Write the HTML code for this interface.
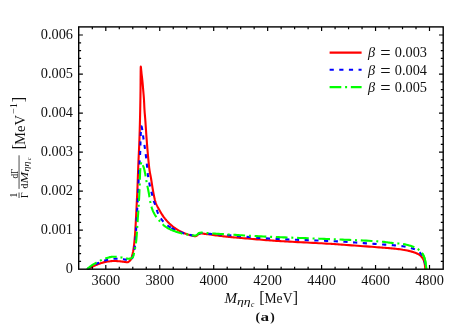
<!DOCTYPE html>
<html><head><meta charset="utf-8"><title>plot</title>
<style>
html,body{margin:0;padding:0;background:#fff;}
svg{display:block;will-change:transform;font-family:"Liberation Serif",serif;}
</style></head><body>
<svg width="469" height="328" viewBox="0 0 469 328">
<rect width="469" height="328" fill="#fff"/>

<defs><clipPath id="c"><rect x="78.7" y="26.9" width="364.5" height="242.9"/></clipPath></defs>
<g fill="none" stroke-linejoin="round" clip-path="url(#c)">
<path d="M87.60,269.20 L88.13,268.90 L88.68,268.59 L89.27,268.28 L89.88,267.96 L90.00,267.90 L90.51,267.64 L91.17,267.31 L91.86,266.97 L92.58,266.63 L93.34,266.27 L93.50,266.20 L94.14,265.91 L94.99,265.52 L95.89,265.12 L96.82,264.73 L97.76,264.34 L98.70,263.98 L99.20,263.80 L99.64,263.64 L100.58,263.31 L101.52,262.98 L102.48,262.66 L103.46,262.37 L104.47,262.12 L105.50,261.92 L105.60,261.90 L106.59,261.74 L107.73,261.58 L108.92,261.42 L110.12,261.27 L111.33,261.15 L112.53,261.06 L113.71,261.01 L114.50,261.00 L114.85,261.00 L115.99,261.04 L117.12,261.10 L118.24,261.19 L119.35,261.30 L120.42,261.41 L121.46,261.52 L122.20,261.60 L122.44,261.62 L123.41,261.74 L124.35,261.88 L125.25,262.02 L126.11,262.13 L126.92,262.19 L127.30,262.20 L127.67,262.17 L128.39,261.91 L129.09,261.47 L129.72,260.91 L130.26,260.31 L130.50,260.00 L130.70,259.69 L131.09,258.93 L131.44,258.03 L131.76,257.04 L132.04,256.02 L132.31,254.99 L132.50,254.20 L132.55,254.01 L132.76,253.08 L132.96,252.14 L133.15,251.20 L133.32,250.23 L133.49,249.21 L133.65,248.13 L133.70,247.80 L133.82,246.95 L133.98,245.66 L134.14,244.27 L134.29,242.82 L134.45,241.33 L134.59,239.83 L134.72,238.35 L134.85,236.90 L134.96,235.53 L135.00,235.00 L135.06,234.23 L135.15,232.96 L135.23,231.72 L135.31,230.51 L135.38,229.31 L135.45,228.14 L135.52,226.97 L135.59,225.82 L135.60,225.60 L135.65,224.72 L135.71,223.69 L135.76,222.71 L135.81,221.71 L135.86,220.68 L135.92,219.55 L135.99,218.28 L136.00,218.00 L136.06,216.83 L136.14,215.19 L136.24,213.37 L136.34,211.40 L136.45,209.30 L136.56,207.11 L136.67,204.84 L136.78,202.52 L136.90,200.17 L137.01,197.83 L137.12,195.50 L137.23,193.23 L137.32,191.04 L137.40,189.30 L137.42,188.94 L137.50,186.88 L137.58,184.82 L137.66,182.77 L137.74,180.73 L137.81,178.69 L137.89,176.66 L137.96,174.63 L138.03,172.62 L138.11,170.62 L138.18,168.62 L138.26,166.64 L138.33,164.68 L138.40,163.00 L138.41,162.72 L138.49,160.79 L138.58,158.88 L138.66,156.98 L138.75,155.11 L138.84,153.24 L138.92,151.37 L139.01,149.51 L139.09,147.65 L139.18,145.78 L139.25,143.90 L139.33,142.00 L139.40,140.09 L139.40,140.00 L139.46,138.15 L139.53,136.20 L139.59,134.24 L139.65,132.26 L139.71,130.28 L139.77,128.29 L139.82,126.31 L139.88,124.32 L139.93,122.34 L139.98,120.36 L140.02,118.40 L140.07,116.45 L140.10,115.00 L140.11,114.52 L140.15,112.61 L140.19,110.71 L140.22,108.83 L140.26,106.95 L140.29,105.09 L140.33,103.22 L140.36,101.35 L140.39,99.48 L140.42,97.60 L140.45,95.71 L140.47,93.80 L140.50,92.00 L140.50,91.88 L140.53,89.77 L140.55,87.42 L140.57,84.90 L140.59,82.29 L140.60,79.64 L140.62,77.05 L140.64,74.59 L140.66,72.33 L140.68,70.34 L140.71,68.70 L140.74,67.48 L140.77,66.77 L140.80,66.60 L140.81,66.62 L140.88,67.06 L140.99,67.95 L141.11,69.15 L141.25,70.53 L141.39,71.94 L141.52,73.25 L141.60,74.00 L141.64,74.33 L141.75,75.29 L141.86,76.22 L141.97,77.14 L142.09,78.07 L142.20,79.05 L142.30,80.00 L142.31,80.09 L142.42,81.21 L142.54,82.40 L142.65,83.64 L142.76,84.91 L142.88,86.20 L142.99,87.50 L143.10,88.78 L143.20,90.00 L143.20,90.04 L143.31,91.29 L143.42,92.53 L143.52,93.77 L143.63,95.01 L143.73,96.26 L143.83,97.50 L143.92,98.74 L144.00,99.99 L144.00,100.00 L144.07,101.23 L144.13,102.47 L144.19,103.72 L144.25,104.96 L144.30,106.21 L144.36,107.45 L144.43,108.69 L144.50,109.94 L144.50,110.00 L144.58,111.16 L144.66,112.35 L144.76,113.53 L144.86,114.71 L144.96,115.92 L145.07,117.17 L145.18,118.47 L145.29,119.86 L145.30,120.00 L145.40,121.35 L145.51,122.93 L145.63,124.60 L145.75,126.33 L145.87,128.12 L145.99,129.95 L146.12,131.80 L146.24,133.66 L146.37,135.52 L146.50,137.36 L146.64,139.16 L146.70,140.00 L146.77,140.94 L146.91,142.74 L147.06,144.58 L147.21,146.44 L147.36,148.30 L147.51,150.15 L147.67,151.98 L147.82,153.76 L147.98,155.49 L148.13,157.15 L148.28,158.73 L148.40,160.00 L148.42,160.21 L148.56,161.60 L148.69,162.92 L148.82,164.18 L148.94,165.40 L149.07,166.59 L149.21,167.77 L149.36,168.93 L149.50,170.00 L149.51,170.10 L149.69,171.24 L149.87,172.33 L150.07,173.39 L150.27,174.46 L150.49,175.55 L150.71,176.70 L150.93,177.93 L151.00,178.30 L151.17,179.27 L151.41,180.76 L151.67,182.37 L151.93,184.06 L152.21,185.80 L152.48,187.55 L152.76,189.28 L153.05,190.96 L153.32,192.55 L153.60,194.01 L153.80,195.00 L153.87,195.32 L154.12,196.51 L154.36,197.63 L154.60,198.69 L154.85,199.71 L155.12,200.71 L155.42,201.72 L155.70,202.60 L155.75,202.75 L156.15,203.80 L156.61,204.84 L157.11,205.87 L157.65,206.90 L158.22,207.92 L158.79,208.93 L159.35,209.94 L159.50,210.20 L159.92,210.94 L160.49,211.94 L161.07,212.94 L161.67,213.93 L162.29,214.91 L162.92,215.87 L163.56,216.80 L164.00,217.40 L164.23,217.70 L164.91,218.58 L165.62,219.45 L166.34,220.30 L167.08,221.12 L167.84,221.93 L168.60,222.71 L169.20,223.30 L169.36,223.46 L170.13,224.18 L170.90,224.89 L171.69,225.57 L172.49,226.23 L173.32,226.88 L174.18,227.53 L174.70,227.90 L175.07,228.16 L176.01,228.80 L176.99,229.44 L178.01,230.07 L179.04,230.68 L180.09,231.27 L181.15,231.81 L182.21,232.32 L182.40,232.40 L183.29,232.78 L184.41,233.24 L185.57,233.68 L186.72,234.10 L187.86,234.49 L188.96,234.83 L190.01,235.12 L190.70,235.30 L190.97,235.37 L191.91,235.60 L192.81,235.81 L193.67,236.00 L194.46,236.14 L195.17,236.20 L195.30,236.20 L195.78,236.14 L196.32,235.94 L196.81,235.65 L197.20,235.40 L197.26,235.36 L197.65,234.96 L198.01,234.49 L198.40,234.11 L198.60,234.00 L198.89,233.90 L199.49,233.73 L200.15,233.60 L200.85,233.52 L201.30,233.50 L201.55,233.50 L202.29,233.55 L203.05,233.64 L203.83,233.75 L204.59,233.85 L205.00,233.90 L205.33,233.94 L206.01,234.01 L206.67,234.09 L207.38,234.18 L208.18,234.27 L208.40,234.30 L209.15,234.40 L210.28,234.55 L211.56,234.73 L212.95,234.93 L214.39,235.14 L215.87,235.35 L217.33,235.55 L218.75,235.74 L220.00,235.90 L220.08,235.91 L221.36,236.06 L222.61,236.21 L223.85,236.35 L225.09,236.49 L226.31,236.62 L227.54,236.75 L228.77,236.88 L230.00,237.00 L230.01,237.00 L231.22,237.12 L232.38,237.23 L233.52,237.33 L234.68,237.44 L235.87,237.54 L237.12,237.65 L238.47,237.77 L239.93,237.89 L240.00,237.90 L241.57,238.04 L243.41,238.20 L245.43,238.37 L247.58,238.56 L249.84,238.76 L252.18,238.96 L254.57,239.16 L256.97,239.36 L259.37,239.56 L261.71,239.75 L263.98,239.94 L266.15,240.11 L268.17,240.26 L270.00,240.40 L270.03,240.40 L271.71,240.52 L273.26,240.63 L274.71,240.73 L276.11,240.83 L277.48,240.92 L278.86,241.01 L280.30,241.11 L281.83,241.20 L283.49,241.31 L285.00,241.40 L285.32,241.42 L287.39,241.54 L289.72,241.67 L292.26,241.81 L294.99,241.96 L297.85,242.11 L300.83,242.26 L303.87,242.41 L306.95,242.57 L310.03,242.72 L313.07,242.88 L316.03,243.03 L318.88,243.18 L321.59,243.32 L324.10,243.46 L326.40,243.58 L328.44,243.70 L330.00,243.80 L330.18,243.81 L331.65,243.91 L332.91,243.99 L334.04,244.07 L335.11,244.15 L336.18,244.23 L337.33,244.31 L338.62,244.40 L340.00,244.50 L340.11,244.51 L341.90,244.64 L344.00,244.78 L346.35,244.95 L348.92,245.14 L351.66,245.33 L354.52,245.54 L357.48,245.75 L360.47,245.97 L363.47,246.19 L366.42,246.40 L369.28,246.61 L372.02,246.81 L374.58,247.00 L376.92,247.18 L379.01,247.33 L380.79,247.47 L381.20,247.50 L382.27,247.58 L383.57,247.68 L384.73,247.77 L385.81,247.85 L386.85,247.93 L387.90,248.01 L389.02,248.11 L390.00,248.20 L390.25,248.22 L391.55,248.35 L392.91,248.48 L394.31,248.62 L395.73,248.77 L397.17,248.93 L398.62,249.11 L400.06,249.30 L401.49,249.50 L402.80,249.70 L402.90,249.72 L404.33,249.96 L405.81,250.24 L407.32,250.55 L408.82,250.88 L410.29,251.24 L411.72,251.62 L413.07,252.02 L414.31,252.42 L415.44,252.84 L415.60,252.90 L416.45,253.26 L417.40,253.71 L418.30,254.19 L419.13,254.70 L419.89,255.24 L420.59,255.81 L420.90,256.10 L421.23,256.43 L421.85,257.12 L422.43,257.88 L422.96,258.67 L423.42,259.49 L423.79,260.29 L423.90,260.60 L424.06,261.09 L424.29,261.90 L424.49,262.72 L424.66,263.54 L424.81,264.36 L424.90,265.00 L424.92,265.18 L425.03,265.99 L425.12,266.79 L425.20,267.60 L425.26,268.40 L425.30,269.20" stroke="#f00" stroke-width="2.1"/>
<path d="M87.30,269.20 L88.09,268.62 L88.89,268.05 L89.71,267.50 L90.53,266.96 L91.36,266.44 L92.20,265.95 L93.00,265.50 L93.05,265.47 L93.92,265.01 L94.79,264.57 L95.68,264.14 L96.58,263.73 L97.48,263.33 L98.38,262.94 L99.20,262.60 L99.29,262.56 L100.19,262.20 L101.08,261.83 L101.98,261.48 L102.88,261.14 L103.81,260.82 L104.77,260.52 L105.60,260.30 L105.76,260.26 L106.80,260.00 L107.87,259.73 L108.98,259.46 L110.11,259.21 L111.26,259.00 L112.40,258.83 L113.55,258.73 L114.50,258.70 L114.67,258.70 L115.81,258.72 L116.96,258.76 L118.12,258.83 L119.27,258.91 L120.42,259.01 L121.54,259.11 L122.62,259.21 L123.50,259.30 L123.66,259.32 L124.71,259.46 L125.76,259.64 L126.80,259.84 L127.78,260.03 L128.69,260.19 L129.48,260.28 L129.90,260.30 L130.14,260.28 L130.74,260.01 L131.27,259.54 L131.75,258.93 L132.14,258.29 L132.30,258.00 L132.46,257.67 L132.73,256.97 L132.97,256.18 L133.18,255.32 L133.38,254.42 L133.58,253.47 L133.70,252.90 L133.79,252.49 L134.00,251.46 L134.21,250.35 L134.42,249.19 L134.62,247.99 L134.81,246.74 L134.99,245.47 L135.15,244.18 L135.28,242.88 L135.30,242.70 L135.40,241.56 L135.51,240.18 L135.61,238.77 L135.70,237.32 L135.78,235.84 L135.86,234.36 L135.94,232.87 L136.02,231.39 L136.09,229.93 L136.17,228.50 L136.20,228.00 L136.25,227.10 L136.33,225.69 L136.40,224.29 L136.48,222.89 L136.55,221.50 L136.62,220.12 L136.70,218.77 L136.76,217.44 L136.83,216.15 L136.90,214.90 L136.90,214.89 L136.96,213.69 L137.03,212.54 L137.09,211.43 L137.14,210.33 L137.20,209.24 L137.26,208.13 L137.33,206.98 L137.39,205.79 L137.40,205.70 L137.47,204.55 L137.55,203.27 L137.64,201.97 L137.73,200.64 L137.83,199.30 L137.92,197.93 L138.01,196.56 L138.09,195.18 L138.16,193.79 L138.20,193.00 L138.23,192.40 L138.28,191.00 L138.33,189.59 L138.38,188.17 L138.42,186.74 L138.46,185.29 L138.51,183.84 L138.55,182.38 L138.60,180.92 L138.65,179.45 L138.70,178.30 L138.71,177.97 L138.78,176.47 L138.86,174.94 L138.94,173.40 L139.02,171.84 L139.11,170.28 L139.20,168.73 L139.29,167.19 L139.38,165.68 L139.47,164.19 L139.56,162.75 L139.60,162.00 L139.64,161.35 L139.72,159.99 L139.81,158.66 L139.89,157.36 L139.98,156.07 L140.06,154.80 L140.13,153.53 L140.20,152.26 L140.26,150.98 L140.30,150.00 L140.31,149.69 L140.35,148.38 L140.38,147.08 L140.41,145.78 L140.44,144.47 L140.46,143.17 L140.49,141.87 L140.52,140.57 L140.56,139.27 L140.60,138.00 L140.60,137.98 L140.66,136.56 L140.73,134.95 L140.81,133.26 L140.91,131.56 L141.01,129.96 L141.12,128.54 L141.24,127.39 L141.36,126.62 L141.49,126.30 L141.50,126.30 L141.63,126.51 L141.80,127.16 L141.98,128.11 L142.18,129.25 L142.36,130.42 L142.53,131.52 L142.60,132.00 L142.66,132.42 L142.78,133.27 L142.89,134.10 L142.99,134.93 L143.09,135.79 L143.21,136.70 L143.30,137.40 L143.34,137.68 L143.49,138.75 L143.66,139.88 L143.84,141.08 L144.03,142.31 L144.22,143.56 L144.41,144.81 L144.59,146.04 L144.76,147.24 L144.80,147.50 L144.92,148.39 L145.08,149.53 L145.24,150.66 L145.39,151.78 L145.54,152.90 L145.68,154.02 L145.82,155.14 L145.96,156.27 L146.00,156.60 L146.09,157.40 L146.22,158.54 L146.35,159.68 L146.48,160.82 L146.60,161.96 L146.72,163.10 L146.84,164.23 L146.95,165.36 L147.00,165.80 L147.07,166.48 L147.18,167.58 L147.28,168.66 L147.38,169.74 L147.48,170.83 L147.60,171.93 L147.72,173.06 L147.85,174.23 L147.90,174.60 L148.01,175.46 L148.20,176.76 L148.41,178.11 L148.65,179.49 L148.89,180.89 L149.15,182.29 L149.42,183.67 L149.69,185.01 L149.96,186.30 L150.20,187.40 L150.23,187.51 L150.50,188.68 L150.79,189.83 L151.10,190.96 L151.40,192.05 L151.70,193.10 L151.98,194.11 L152.24,195.06 L152.40,195.70 L152.46,195.96 L152.65,196.78 L152.82,197.55 L152.98,198.29 L153.14,199.02 L153.34,199.77 L153.40,200.00 L153.57,200.55 L153.84,201.31 L154.13,202.07 L154.45,202.85 L154.77,203.66 L155.10,204.51 L155.20,204.80 L155.41,205.43 L155.72,206.41 L156.03,207.45 L156.35,208.52 L156.68,209.61 L157.04,210.71 L157.42,211.80 L157.84,212.85 L157.90,213.00 L158.31,213.90 L158.83,214.96 L159.41,216.02 L160.03,217.09 L160.69,218.14 L161.38,219.15 L162.10,220.13 L162.83,221.06 L163.30,221.60 L163.59,221.92 L164.41,222.76 L165.29,223.58 L166.21,224.37 L167.17,225.13 L168.13,225.85 L169.10,226.53 L170.05,227.16 L170.90,227.70 L170.96,227.74 L171.40,228.00" stroke="#00f" stroke-width="2.1" stroke-dasharray="4.1 5.4"/>
<path d="M171.40,228.00 L171.85,228.26 L172.73,228.75 L173.60,229.21 L174.47,229.65 L175.34,230.06 L176.21,230.45 L177.00,230.80 L177.09,230.84 L177.98,231.22 L178.85,231.58 L179.73,231.93 L180.62,232.27 L181.53,232.59 L182.45,232.90 L183.10,233.10 L183.40,233.19 L184.40,233.48 L185.45,233.75 L186.52,234.02 L187.59,234.28 L188.64,234.52 L189.64,234.75 L190.58,234.97 L190.70,235.00 L191.46,235.19 L192.32,235.42 L193.15,235.65 L193.93,235.84 L194.65,235.96 L195.20,236.00 L195.29,236.00 L195.85,235.87 L196.36,235.59 L196.83,235.26 L197.20,235.00 L197.27,234.95 L197.66,234.61 L198.01,234.25 L198.40,233.92 L198.60,233.80 L198.87,233.67 L199.43,233.42 L200.05,233.20 L200.70,233.05 L201.30,233.00 L201.36,233.00 L202.03,233.02 L202.73,233.07 L203.45,233.14 L204.20,233.22 L204.97,233.30 L205.00,233.30 L205.74,233.38 L206.52,233.47 L207.32,233.57 L208.16,233.68 L209.07,233.78 L210.06,233.89 L210.20,233.90 L211.19,233.98 L212.49,234.08 L213.92,234.17 L215.46,234.27 L217.06,234.36 L218.70,234.46 L220.33,234.55 L221.92,234.65 L223.43,234.74 L224.84,234.84 L225.60,234.90 L226.10,234.94 L227.22,235.04 L228.24,235.13 L229.22,235.23 L230.20,235.32 L231.22,235.43 L232.34,235.54 L233.60,235.65 L234.10,235.70 L235.03,235.78 L236.63,235.93 L238.39,236.09 L240.29,236.27 L242.31,236.45 L244.44,236.64 L246.68,236.84 L249.00,237.05 L251.40,237.25 L253.85,237.46 L256.36,237.66 L258.90,237.85 L261.46,238.04 L264.03,238.22 L266.60,238.39 L269.14,238.55 L270.00,238.60 L271.71,238.69 L274.45,238.84 L277.35,238.98 L280.39,239.11 L283.55,239.25 L286.80,239.38 L290.11,239.52 L293.47,239.65 L296.84,239.77 L300.21,239.90 L303.55,240.02 L306.84,240.13 L310.05,240.25 L313.16,240.36 L316.14,240.46 L318.97,240.56 L321.63,240.66 L324.10,240.75 L326.34,240.84 L328.33,240.92 L330.00,241.00 L330.06,241.00 L331.51,241.07 L332.76,241.13 L333.87,241.18 L334.89,241.23 L335.89,241.28 L336.94,241.34 L338.10,241.40 L339.43,241.47 L340.00,241.50 L341.00,241.56 L342.86,241.67 L344.97,241.80 L347.30,241.96 L349.82,242.13 L352.48,242.32 L355.24,242.52 L358.07,242.72 L360.93,242.93 L363.79,243.14 L366.60,243.34 L369.33,243.54 L371.94,243.73 L374.40,243.91 L376.66,244.08 L378.68,244.22 L380.44,244.35 L381.20,244.40 L381.92,244.45 L383.19,244.53 L384.34,244.61 L385.39,244.67 L386.39,244.74 L387.39,244.81 L388.42,244.88 L389.53,244.96 L390.00,245.00 L390.74,245.06 L392.01,245.16 L393.32,245.27 L394.66,245.38 L396.02,245.51 L397.40,245.64 L398.79,245.79 L400.17,245.95 L401.53,246.12 L402.80,246.30 L402.87,246.31 L404.24,246.53 L405.65,246.79 L407.08,247.08 L408.51,247.41 L409.92,247.76 L411.30,248.14 L412.61,248.55 L413.83,248.97 L414.96,249.41 L415.60,249.70 L415.96,249.87 L416.91,250.38 L417.81,250.95 L418.66,251.56 L419.45,252.21 L420.17,252.90 L420.83,253.61 L421.30,254.20 L421.41,254.35 L421.94,255.16 L422.45,256.05 L422.92,256.99 L423.35,257.95 L423.73,258.91 L424.06,259.84 L424.30,260.60 L424.33,260.70 L424.56,261.51 L424.77,262.30 L424.95,263.07 L425.11,263.83 L425.24,264.59 L425.30,265.00 L425.35,265.36 L425.45,266.13 L425.53,266.90 L425.61,267.67 L425.67,268.44 L425.70,269.20" stroke="#00f" stroke-width="2.1" stroke-dasharray="4.2 5.5"/>
<path d="M87.00,269.20 L87.76,268.52 L88.53,267.86 L89.32,267.22 L90.11,266.60 L90.92,265.99 L91.74,265.41 L92.57,264.85 L92.80,264.70 L93.41,264.31 L94.27,263.79 L95.15,263.29 L96.03,262.81 L96.93,262.34 L97.83,261.88 L98.72,261.43 L99.20,261.20 L99.61,261.00 L100.50,260.56 L101.38,260.13 L102.27,259.71 L103.16,259.30 L104.07,258.93 L105.00,258.59 L105.60,258.40 L105.95,258.29 L106.93,257.99 L107.94,257.68 L108.97,257.39 L110.00,257.13 L111.05,256.91 L112.09,256.77 L113.12,256.70 L113.30,256.70 L114.14,256.71 L115.16,256.76 L116.19,256.85 L117.21,256.95 L118.24,257.07 L119.26,257.20 L120.28,257.33 L120.90,257.40 L121.31,257.45 L122.38,257.63 L123.46,257.85 L124.55,258.08 L125.61,258.31 L126.65,258.50 L127.62,258.64 L128.51,258.70 L128.60,258.70 L129.35,258.65 L130.18,258.50 L130.96,258.25 L131.66,257.95 L132.24,257.60 L132.50,257.40 L132.68,257.21 L133.04,256.62 L133.35,255.84 L133.63,254.92 L133.88,253.90 L134.12,252.85 L134.35,251.80 L134.40,251.60 L134.60,250.74 L134.84,249.61 L135.07,248.41 L135.30,247.15 L135.53,245.85 L135.73,244.53 L135.92,243.19 L136.10,241.87 L136.25,240.57 L136.30,240.10 L136.38,239.28 L136.50,237.99 L136.61,236.68 L136.71,235.36 L136.80,234.04 L136.89,232.72 L136.98,231.42 L137.06,230.14 L137.14,228.88 L137.20,228.00 L137.22,227.66 L137.30,226.49 L137.37,225.34 L137.44,224.23 L137.51,223.12 L137.58,222.00 L137.65,220.87 L137.72,219.71 L137.80,218.51 L137.80,218.50 L137.88,217.27 L137.97,216.02 L138.07,214.74 L138.16,213.44 L138.26,212.12 L138.36,210.78 L138.46,209.41 L138.55,208.02 L138.64,206.61 L138.70,205.70 L138.73,205.17 L138.82,203.67 L138.90,202.13 L138.99,200.56 L139.07,198.95 L139.15,197.32 L139.23,195.68 L139.31,194.04 L139.38,192.40 L139.45,190.78 L139.52,189.18 L139.59,187.60 L139.60,187.40 L139.65,186.05 L139.71,184.47 L139.76,182.88 L139.80,181.30 L139.85,179.72 L139.89,178.16 L139.94,176.63 L139.99,175.14 L140.05,173.71 L140.12,172.33 L140.20,171.02 L140.20,171.00 L140.29,169.67 L140.41,168.21 L140.55,166.72 L140.71,165.30 L140.89,164.03 L141.07,163.00 L141.27,162.30 L141.48,162.00 L141.50,162.00 L141.71,162.18 L141.99,162.74 L142.30,163.53 L142.61,164.41 L142.91,165.24 L143.00,165.50 L143.16,165.92 L143.39,166.55 L143.62,167.19 L143.84,167.86 L144.06,168.60 L144.20,169.10 L144.30,169.47 L144.54,170.52 L144.78,171.71 L145.03,173.02 L145.28,174.41 L145.52,175.86 L145.77,177.34 L146.02,178.81 L146.27,180.23 L146.52,181.58 L146.60,182.00 L146.77,182.86 L147.02,184.12 L147.27,185.37 L147.53,186.62 L147.78,187.85 L148.03,189.06 L148.28,190.27 L148.51,191.46 L148.73,192.63 L148.80,193.00 L148.94,193.78 L149.13,194.92 L149.30,196.04 L149.47,197.14 L149.64,198.24 L149.82,199.32 L150.01,200.40 L150.21,201.48 L150.30,201.90 L150.44,202.56 L150.68,203.64 L150.94,204.72 L151.21,205.79 L151.51,206.85 L151.82,207.90 L152.15,208.93 L152.50,209.93 L152.60,210.20 L152.88,210.91 L153.32,211.88 L153.80,212.85 L154.31,213.79 L154.85,214.71 L155.40,215.60 L155.95,216.44 L156.40,217.10 L156.50,217.24 L157.05,217.99 L157.61,218.70 L158.19,219.38 L158.78,220.05 L159.38,220.71 L159.99,221.37 L160.20,221.60 L160.62,222.06 L161.25,222.76 L161.89,223.46 L162.55,224.16 L163.23,224.84 L163.93,225.49 L164.66,226.09 L164.80,226.20 L165.43,226.66 L166.24,227.20 L167.09,227.72 L167.96,228.22 L168.85,228.70 L169.74,229.15 L170.63,229.57 L170.90,229.70 L171.40,229.92" stroke="#0f0" stroke-width="2.1" stroke-dasharray="11.7 3.8 2 3.75"/>
<path d="M171.40,229.92 L171.50,229.97 L172.38,230.34 L173.27,230.69 L174.16,231.02 L175.06,231.34 L175.95,231.65 L176.85,231.95 L177.00,232.00 L177.74,232.25 L178.62,232.54 L179.50,232.83 L180.39,233.10 L181.29,233.36 L182.21,233.60 L183.10,233.80 L183.15,233.81 L184.14,234.01 L185.19,234.19 L186.26,234.36 L187.33,234.52 L188.39,234.67 L189.40,234.81 L190.35,234.95 L190.70,235.00 L191.22,235.08 L192.06,235.22 L192.87,235.36 L193.64,235.48 L194.35,235.57 L195.00,235.60 L195.00,235.60 L195.60,235.51 L196.15,235.27 L196.66,234.96 L197.12,234.65 L197.20,234.60 L197.53,234.32 L197.88,233.93 L198.23,233.55 L198.60,233.30 L198.65,233.27 L199.17,233.05 L199.76,232.85 L200.40,232.69 L201.06,232.61 L201.30,232.60 L201.71,232.61 L202.37,232.65 L203.06,232.71 L203.78,232.79 L204.55,232.86 L205.00,232.90 L205.39,232.93 L206.29,233.00 L207.27,233.08 L208.29,233.16 L209.36,233.25 L210.46,233.33 L211.59,233.42 L212.73,233.50 L212.80,233.50 L213.89,233.57 L215.09,233.65 L216.33,233.72 L217.60,233.79 L218.89,233.86 L220.20,233.94 L221.54,234.01 L222.89,234.09 L224.24,234.17 L224.70,234.20 L225.60,234.26 L226.96,234.34 L228.32,234.43 L229.69,234.53 L231.09,234.62 L232.51,234.72 L233.96,234.81 L235.45,234.91 L236.99,235.01 L238.58,235.11 L240.00,235.20 L240.24,235.21 L242.01,235.32 L243.91,235.43 L245.91,235.55 L247.99,235.66 L250.13,235.78 L252.32,235.90 L254.53,236.02 L256.75,236.14 L258.95,236.26 L261.11,236.37 L263.22,236.48 L265.25,236.58 L267.19,236.67 L269.00,236.76 L270.00,236.80 L270.69,236.83 L272.23,236.90 L273.67,236.96 L275.02,237.01 L276.34,237.07 L277.63,237.12 L278.95,237.17 L280.31,237.22 L281.76,237.27 L283.32,237.33 L285.00,237.40 L285.02,237.40 L286.93,237.48 L289.08,237.56 L291.43,237.65 L293.95,237.74 L296.62,237.84 L299.39,237.95 L302.24,238.05 L305.14,238.16 L308.06,238.27 L310.96,238.38 L313.82,238.49 L316.60,238.59 L319.27,238.69 L321.81,238.79 L324.18,238.88 L326.35,238.96 L328.29,239.03 L329.97,239.10 L330.00,239.10 L331.40,239.15 L332.63,239.20 L333.73,239.25 L334.75,239.28 L335.75,239.32 L336.80,239.37 L337.95,239.41 L339.25,239.47 L340.00,239.50 L340.77,239.53 L342.58,239.61 L344.64,239.70 L346.92,239.79 L349.39,239.90 L352.00,240.01 L354.72,240.13 L357.52,240.26 L360.36,240.39 L363.19,240.52 L366.00,240.66 L368.72,240.80 L371.34,240.94 L373.82,241.09 L376.11,241.23 L378.18,241.36 L380.00,241.50 L381.20,241.60 L381.53,241.63 L382.84,241.76 L384.00,241.90 L385.07,242.04 L386.07,242.18 L387.05,242.32 L388.05,242.46 L389.11,242.59 L390.00,242.70 L390.28,242.73 L391.51,242.86 L392.80,242.98 L394.11,243.09 L395.46,243.20 L396.82,243.32 L398.19,243.45 L399.56,243.59 L400.92,243.74 L402.26,243.92 L402.80,244.00 L403.59,244.13 L404.95,244.38 L406.35,244.69 L407.75,245.03 L409.14,245.41 L410.51,245.82 L411.84,246.26 L413.10,246.72 L414.28,247.20 L415.37,247.69 L415.60,247.80 L416.38,248.20 L417.36,248.77 L418.30,249.39 L419.20,250.04 L420.03,250.74 L420.80,251.46 L421.47,252.21 L422.00,252.90 L422.05,252.97 L422.56,253.78 L423.04,254.65 L423.48,255.56 L423.87,256.50 L424.23,257.44 L424.54,258.38 L424.80,259.29 L424.80,259.30 L425.02,260.19 L425.23,261.09 L425.42,261.99 L425.58,262.88 L425.73,263.76 L425.85,264.60 L425.90,265.00 L425.95,265.42 L426.05,266.22 L426.13,266.99 L426.20,267.75 L426.26,268.48 L426.30,269.20" stroke="#0f0" stroke-width="2.1" stroke-dasharray="11.7 3.8 2 3.75"/>
<path d="M422.56,253.78 L423.04,254.65 L423.48,255.56 L423.87,256.50 L424.23,257.44 L424.54,258.38 L424.80,259.29 L424.80,259.30 L425.02,260.19 L425.23,261.09 L425.42,261.99 L425.58,262.88 L425.73,263.76 L425.85,264.60 L425.90,265.00 L425.95,265.42 L426.05,266.22 L426.13,266.99 L426.20,267.75 L426.26,268.48 L426.30,269.20" stroke="#0f0" stroke-width="2.1"/>
</g>
<rect x="78.7" y="26.9" width="364.5" height="242.29999999999998" fill="none" stroke="#000" stroke-width="1.4"/>
<path d="M92.31,269.2v-2.4M92.31,26.9v2.4M105.80,269.2v-4.2M105.80,26.9v4.2M119.29,269.2v-2.4M119.29,26.9v2.4M132.78,269.2v-2.4M132.78,26.9v2.4M146.26,269.2v-2.4M146.26,26.9v2.4M159.75,269.2v-4.2M159.75,26.9v4.2M173.24,269.2v-2.4M173.24,26.9v2.4M186.72,269.2v-2.4M186.72,26.9v2.4M200.21,269.2v-2.4M200.21,26.9v2.4M213.70,269.2v-4.2M213.70,26.9v4.2M227.19,269.2v-2.4M227.19,26.9v2.4M240.68,269.2v-2.4M240.68,26.9v2.4M254.16,269.2v-2.4M254.16,26.9v2.4M267.65,269.2v-4.2M267.65,26.9v4.2M281.14,269.2v-2.4M281.14,26.9v2.4M294.62,269.2v-2.4M294.62,26.9v2.4M308.11,269.2v-2.4M308.11,26.9v2.4M321.60,269.2v-4.2M321.60,26.9v4.2M335.09,269.2v-2.4M335.09,26.9v2.4M348.57,269.2v-2.4M348.57,26.9v2.4M362.06,269.2v-2.4M362.06,26.9v2.4M375.55,269.2v-4.2M375.55,26.9v4.2M389.04,269.2v-2.4M389.04,26.9v2.4M402.52,269.2v-2.4M402.52,26.9v2.4M416.01,269.2v-2.4M416.01,26.9v2.4M429.50,269.2v-4.2M429.50,26.9v4.2M78.7,261.39h2.4M443.2,261.39h-2.4M78.7,253.59h2.4M443.2,253.59h-2.4M78.7,245.78h2.4M443.2,245.78h-2.4M78.7,237.98h2.4M443.2,237.98h-2.4M78.7,230.17h4.2M443.2,230.17h-4.2M78.7,222.36h2.4M443.2,222.36h-2.4M78.7,214.56h2.4M443.2,214.56h-2.4M78.7,206.75h2.4M443.2,206.75h-2.4M78.7,198.95h2.4M443.2,198.95h-2.4M78.7,191.14h4.2M443.2,191.14h-4.2M78.7,183.33h2.4M443.2,183.33h-2.4M78.7,175.53h2.4M443.2,175.53h-2.4M78.7,167.72h2.4M443.2,167.72h-2.4M78.7,159.92h2.4M443.2,159.92h-2.4M78.7,152.11h4.2M443.2,152.11h-4.2M78.7,144.30h2.4M443.2,144.30h-2.4M78.7,136.50h2.4M443.2,136.50h-2.4M78.7,128.69h2.4M443.2,128.69h-2.4M78.7,120.89h2.4M443.2,120.89h-2.4M78.7,113.08h4.2M443.2,113.08h-4.2M78.7,105.27h2.4M443.2,105.27h-2.4M78.7,97.47h2.4M443.2,97.47h-2.4M78.7,89.66h2.4M443.2,89.66h-2.4M78.7,81.86h2.4M443.2,81.86h-2.4M78.7,74.05h4.2M443.2,74.05h-4.2M78.7,66.24h2.4M443.2,66.24h-2.4M78.7,58.44h2.4M443.2,58.44h-2.4M78.7,50.63h2.4M443.2,50.63h-2.4M78.7,42.83h2.4M443.2,42.83h-2.4M78.7,35.02h4.2M443.2,35.02h-4.2" stroke="#000" stroke-width="1.2" fill="none"/>
<g font-size="14.3" fill="#111">
<text x="105.80" y="285" text-anchor="middle">3600</text>
<text x="159.75" y="285" text-anchor="middle">3800</text>
<text x="213.70" y="285" text-anchor="middle">4000</text>
<text x="267.65" y="285" text-anchor="middle">4200</text>
<text x="321.60" y="285" text-anchor="middle">4400</text>
<text x="375.55" y="285" text-anchor="middle">4600</text>
<text x="429.50" y="285" text-anchor="middle">4800</text>
<text x="73" y="273.10" text-anchor="end">0</text>
<text x="73" y="234.07" text-anchor="end">0.001</text>
<text x="73" y="195.04" text-anchor="end">0.002</text>
<text x="73" y="156.01" text-anchor="end">0.003</text>
<text x="73" y="116.98" text-anchor="end">0.004</text>
<text x="73" y="77.95" text-anchor="end">0.005</text>
<text x="73" y="38.92" text-anchor="end">0.006</text>
</g>
<g fill="none">
<path d="M329.6,52.6H361.6" stroke="#f00" stroke-width="2.1"/>
<path d="M329.6,69.8H361.6" stroke="#00f" stroke-width="2.1" stroke-dasharray="4.2 5.45"/>
<path d="M329.6,87.1H361.6" stroke="#0f0" stroke-width="2.1" stroke-dasharray="11.7 3.8 2 3.75"/>
</g>
<g font-size="14.3" fill="#111">
<text x="368.1" y="57.3" font-style="italic">β</text><text x="380.2" y="0" textLength="10.4" lengthAdjust="spacingAndGlyphs" transform="translate(0,52.60) scale(1,1.26) translate(0,5.4)">=</text><text x="427" y="57.3" text-anchor="end">0.003</text>
<text x="368.1" y="74.7" font-style="italic">β</text><text x="380.2" y="0" textLength="10.4" lengthAdjust="spacingAndGlyphs" transform="translate(0,70.00) scale(1,1.26) translate(0,5.4)">=</text><text x="427" y="74.7" text-anchor="end">0.004</text>
<text x="368.1" y="92.1" font-style="italic">β</text><text x="380.2" y="0" textLength="10.4" lengthAdjust="spacingAndGlyphs" transform="translate(0,87.40) scale(1,1.26) translate(0,5.4)">=</text><text x="427" y="92.1" text-anchor="end">0.005</text>
</g>
<g fill="#111">
<text x="224.6" y="303.1" font-size="14.3" font-style="italic" textLength="12.6" lengthAdjust="spacingAndGlyphs">M</text>
<text x="236.9" y="305.1" font-size="10.5" font-style="italic" textLength="13.8" lengthAdjust="spacingAndGlyphs">ηη</text>
<text x="251.0" y="307.2" font-size="7.5" font-style="italic">c</text>
<text x="259.2" y="302.6" font-size="16">[</text><text x="264.5" y="303.1" font-size="14" textLength="28.0" lengthAdjust="spacingAndGlyphs">MeV</text><text x="292.7" y="302.6" font-size="16">]</text>
<g font-size="13.5" font-weight="bold"><text x="255.6" y="321">(</text><text x="260.6" y="321" textLength="8.6" lengthAdjust="spacingAndGlyphs">a</text><text x="270.2" y="321">)</text></g>
</g>
<g fill="#111">
<g transform="translate(24.5,149.2) rotate(-90)"><text x="-0.3" y="-1.0" font-size="16">[</text><text x="4.2" y="0" font-size="14" textLength="30" lengthAdjust="spacingAndGlyphs">MeV</text><text x="35.2" y="-7.6" font-size="9.5" textLength="10.9" lengthAdjust="spacingAndGlyphs">−1</text><text x="47.0" y="-1.0" font-size="16">]</text></g>
<path d="M19.05,155.3V188.9M19.05,192.5V198" stroke="#111" stroke-width="0.75"/>
<g transform="translate(17.9,178.5) rotate(-90)"><text x="0" y="0" font-size="9.6" textLength="9.7" lengthAdjust="spacingAndGlyphs">dΓ</text></g>
<g transform="translate(27.5,188.5) rotate(-90)"><text x="0" y="0" font-size="9.6">d</text><text x="4.9" y="0" font-size="9.6" font-style="italic" textLength="11.6" lengthAdjust="spacingAndGlyphs">M</text><text x="17" y="1.8" font-size="7.3" font-style="italic" textLength="10" lengthAdjust="spacingAndGlyphs">ηη</text><text x="28.3" y="3.3" font-size="5.8" font-style="italic">c</text></g>
<g transform="translate(17.4,197.4) rotate(-90)"><text x="0" y="0" font-size="9.6">1</text></g>
<g transform="translate(27.5,198) rotate(-90)"><text x="0" y="0" font-size="9.6">Γ</text></g>
</g>
</svg></body></html>
